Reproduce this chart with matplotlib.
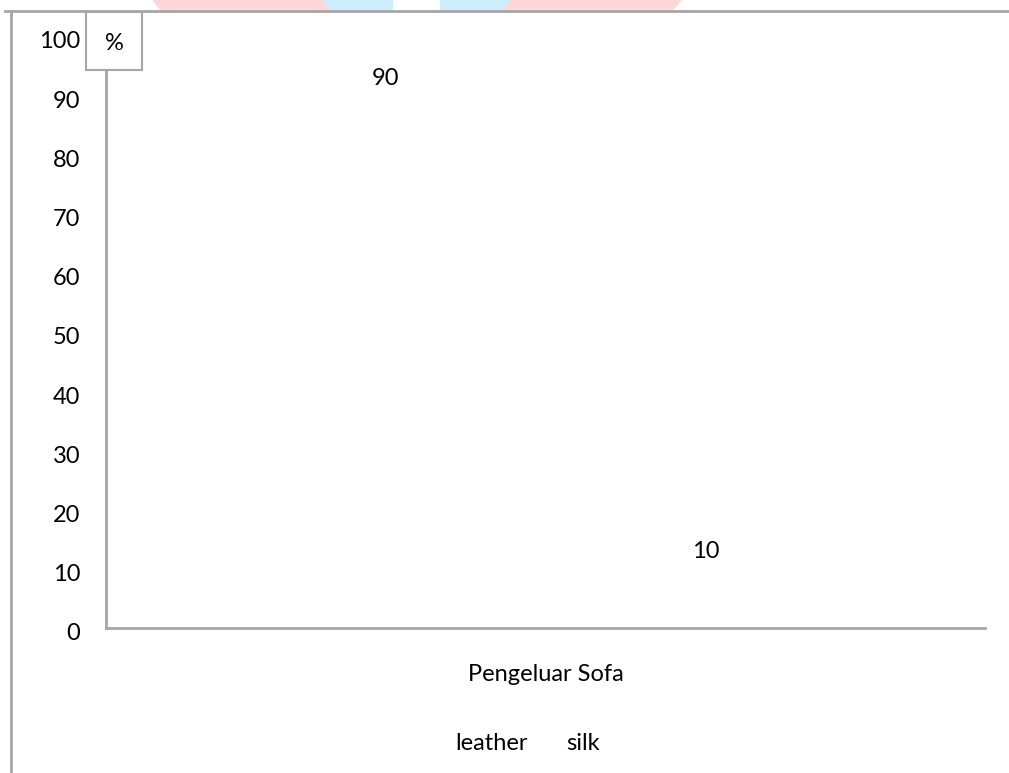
import matplotlib.pyplot as plt
import matplotlib.transforms as mtransforms
from matplotlib.patches import Rectangle, Polygon, Patch

plt.rcParams['font.family'] = ['Lato', 'DejaVu Sans']

categories = ['Pengeluar Sofa']
series_names = ['leather', 'silk']
leather = [90]
silk = [10]
y_ticks = [0, 10, 20, 30, 40, 50, 60, 70, 80, 90, 100]

W, H = 1009, 773
FS = 17
fig = plt.figure(figsize=(W / 100, H / 100), dpi=100)

# faded logo cut off at the top edge
pink = '#ffd6da'
blue = '#cdedfd'
for pts, col in [
    ([(152, 0), (322, 0), (330, 10), (160, 10)], pink),
    ([(322, 0), (393, 0), (393, 10), (330, 10)], blue),
    ([(440, 0), (510, 0), (503, 10), (440, 10)], blue),
    ([(510, 0), (682, 0), (673, 10), (503, 10)], pink),
]:
    fig.patches.append(Polygon([(x / W, 1 - y / H) for x, y in pts], closed=True,
                               transform=fig.transFigure, facecolor=col, edgecolor='none'))

# outer frame (top and left only)
grey = '#a6a6a6'
fig.add_artist(plt.Line2D([5 / W, 1], [1 - 11 / H, 1 - 11 / H], color=grey, lw=2))
fig.add_artist(plt.Line2D([11 / W, 11 / W], [0, 1 - 11 / H], color=grey, lw=2))

ax = fig.add_axes([106 / W, 1 - 628 / H, 879 / W, 592 / H])
x = [0]
width = 0.3636
b1 = ax.bar([i - width / 2 for i in x], leather, width * 0.9, color='white')
b2 = ax.bar([i + width / 2 for i in x], silk, width * 0.9, color='white')
for bars in (b1, b2):
    for r in bars:
        ax.text(r.get_x() + r.get_width() / 2, r.get_height() + 2.9, str(int(r.get_height())),
                ha='center', va='center', fontsize=FS)

ax.set_xlim(-0.5, 0.5)
ax.set_ylim(0, 100)
ax.set_yticks(y_ticks)
ax.set_xticks(x)
ax.set_xticklabels(categories)
ax.tick_params(axis='y', length=0, pad=18.5, labelsize=FS)
ax.tick_params(axis='x', length=0, pad=26, labelsize=FS)
for s in ['top', 'right']:
    ax.spines[s].set_visible(False)
for s in ['left', 'bottom']:
    ax.spines[s].set_color(grey)
    ax.spines[s].set_linewidth(2)
shift = mtransforms.ScaledTranslation(0, -4 / 100, fig.dpi_scale_trans)
for lab in ax.get_yticklabels():
    lab.set_va('center_baseline')
    lab.set_transform(lab.get_transform() + shift)

# "%" box over the top of the y axis
fig.patches.append(Rectangle((86 / W, 1 - 70 / H), 56 / W, 58 / H, transform=fig.transFigure,
                             facecolor='white', edgecolor=grey, lw=1.5, zorder=5))
fig.text(114 / W, 1 - 44 / H, '%', ha='center', va='center', fontsize=FS, zorder=6)

handles = [Patch(facecolor='white', edgecolor='none') for _ in series_names]
fig.legend(handles, series_names, loc='center', bbox_to_anchor=(518 / W, 1 - 743 / H),
           ncol=2, frameon=False, fontsize=FS, handlelength=0.5, handletextpad=0.3,
           columnspacing=0.8)

fig.savefig('out.png', dpi=100, facecolor='white')
